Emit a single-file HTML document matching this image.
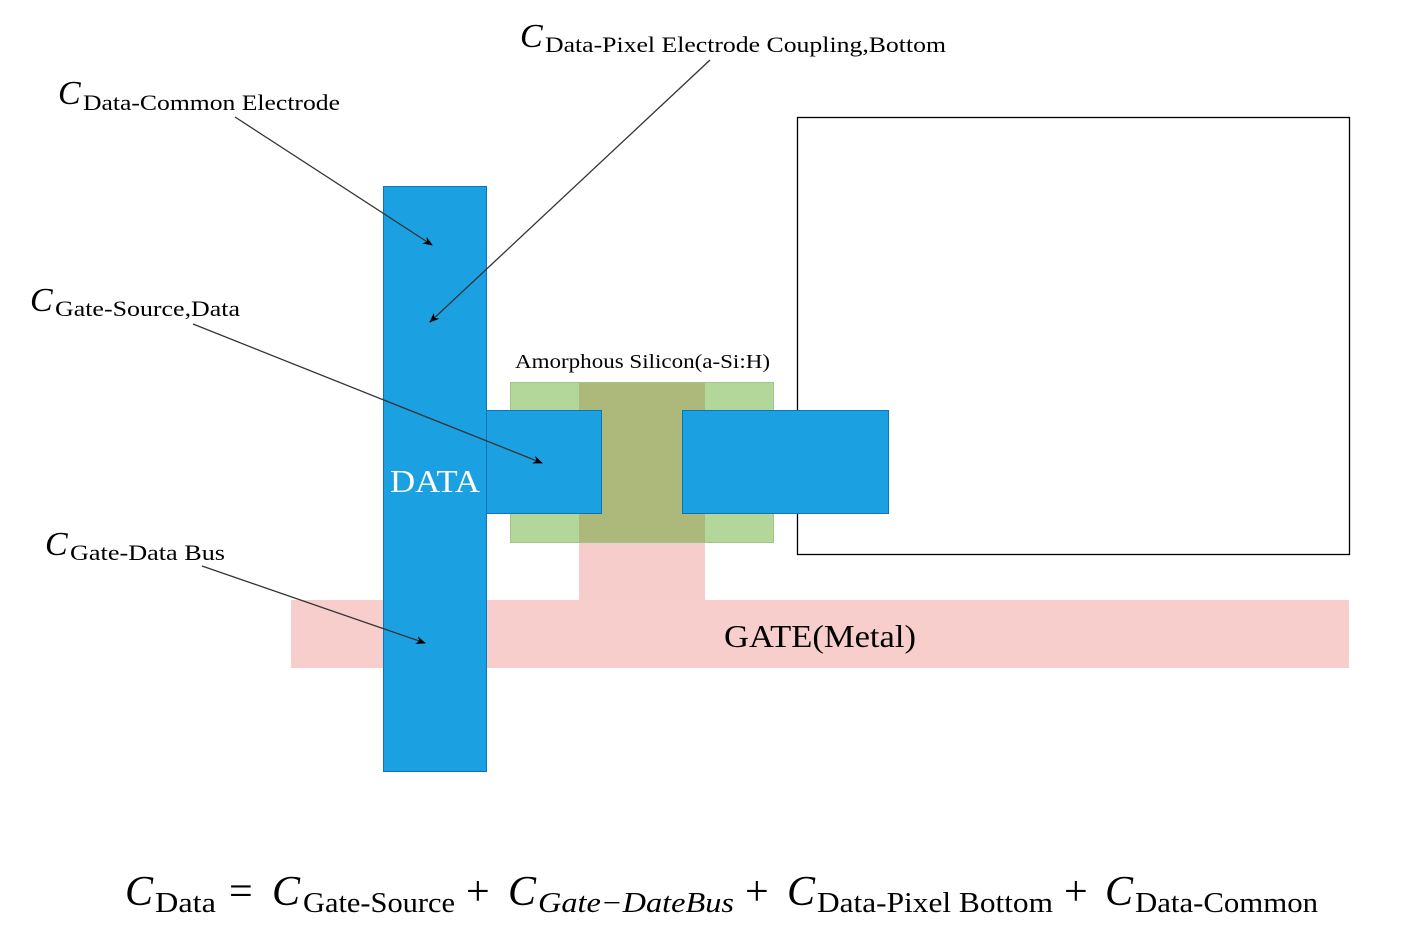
<!DOCTYPE html>
<html><head><meta charset="utf-8"><style>html,body{margin:0;padding:0;background:#fff;width:1406px;height:942px;overflow:hidden}svg{display:block}text{font-family:"Liberation Serif",serif}</style></head>
<body>
<svg width="1406" height="942" viewBox="0 0 1406 942" xmlns="http://www.w3.org/2000/svg">
<defs><marker id="a" markerWidth="10" markerHeight="8" refX="9" refY="4" orient="auto" markerUnits="userSpaceOnUse"><path d="M0,0 L10,4 L0,8 L3,4 z" fill="#000"/></marker></defs>
<rect x="797.5" y="117.5" width="552" height="437" fill="#fff" stroke="#000" stroke-width="1.3"/>
<rect x="291" y="600" width="1058" height="68" fill="#f8cecc"/>
<rect x="579" y="382" width="126" height="218" fill="#f6cdcb"/>
<rect x="510.5" y="382.5" width="263" height="160" fill="#b3d69b" stroke="#9cc784"/>
<rect x="579" y="383" width="126" height="159" fill="#adb97a"/>
<rect x="383.5" y="186.5" width="103" height="585" fill="#1ba1e2" stroke="#0a75b8"/>
<rect x="486.5" y="410.5" width="115" height="103" fill="#1ba1e2" stroke="#0a75b8"/>
<rect x="682.5" y="410.5" width="206" height="103" fill="#1ba1e2" stroke="#0a75b8"/>
<g stroke="#333" stroke-width="1.3" fill="none" marker-end="url(#a)">
<line x1="235" y1="117" x2="432" y2="245"/>
<line x1="710" y1="60" x2="430" y2="322"/>
<line x1="193" y1="324" x2="542" y2="463"/>
<line x1="202" y1="566" x2="425" y2="643"/>
</g>
<g fill="#000">
<text x="58" y="104" font-size="34" font-style="italic">C</text>
<text x="83" y="110" font-size="22" textLength="257" lengthAdjust="spacingAndGlyphs">Data-Common Electrode</text>
<text x="520" y="47" font-size="34" font-style="italic">C</text>
<text x="545" y="52" font-size="22" textLength="401" lengthAdjust="spacingAndGlyphs">Data-Pixel Electrode Coupling,Bottom</text>
<text x="30" y="311" font-size="34" font-style="italic">C</text>
<text x="55" y="316" font-size="22" textLength="185" lengthAdjust="spacingAndGlyphs">Gate-Source,Data</text>
<text x="45" y="555" font-size="34" font-style="italic">C</text>
<text x="70" y="560" font-size="22" textLength="155" lengthAdjust="spacingAndGlyphs">Gate-Data Bus</text>
<text x="515" y="368" font-size="20" textLength="255" lengthAdjust="spacingAndGlyphs">Amorphous Silicon(a-Si:H)</text>
<text x="390" y="492" font-size="32" fill="#fff" textLength="90" lengthAdjust="spacingAndGlyphs">DATA</text>
<text x="724" y="647" font-size="32" textLength="192" lengthAdjust="spacingAndGlyphs">GATE(Metal)</text>
<text x="125" y="905" font-size="42" font-style="italic">C</text>
<text x="155" y="912" font-size="28" textLength="61" lengthAdjust="spacingAndGlyphs">Data</text>
<text x="229" y="905" font-size="42">=</text>
<text x="272" y="905" font-size="42" font-style="italic">C</text>
<text x="303" y="912" font-size="28" textLength="152" lengthAdjust="spacingAndGlyphs">Gate-Source</text>
<text x="466" y="905" font-size="42">+</text>
<text x="508" y="905" font-size="42" font-style="italic">C</text>
<text x="538" y="912" font-size="28" font-style="italic" textLength="196" lengthAdjust="spacingAndGlyphs">Gate−DateBus</text>
<text x="745" y="905" font-size="42">+</text>
<text x="787" y="905" font-size="42" font-style="italic">C</text>
<text x="817" y="912" font-size="28" textLength="236" lengthAdjust="spacingAndGlyphs">Data-Pixel Bottom</text>
<text x="1064" y="905" font-size="42">+</text>
<text x="1105" y="905" font-size="42" font-style="italic">C</text>
<text x="1135" y="912" font-size="28" textLength="183" lengthAdjust="spacingAndGlyphs">Data-Common</text>
</g>
</svg>
</body></html>
